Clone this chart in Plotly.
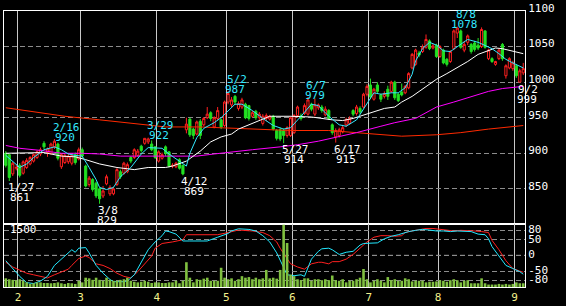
import plotly.graph_objects as go

# ---- daily OHLC (trading-day index 0 = 2022-01-26) ----
opens = [900, 898, 871, 879,
         883, 872, 880, 885, 889, 894, 899, 914, 901, 900, 909, 913, 881, 887, 888, 886, 898, 892,
         905, 882, 856, 863, 858, 850, 840, 857, 843, 843, 856, 874, 872, 874, 894, 894, 897, 910, 914, 916, 913, 909,
         889, 893, 909, 902, 882, 881, 891, 883, 933, 948, 934, 927, 945, 940, 950, 957, 937, 949, 947, 939,
         972, 968, 980, 963, 965, 969, 967, 952, 959, 950, 942, 949, 948, 952, 932, 933, 932, 925, 925,
         929, 953, 953, 956, 955, 969, 955, 964, 965, 954, 960, 940, 923, 925, 930, 940, 942, 960, 956, 963, 965, 983,
         996, 976, 996, 982, 980, 990, 987, 1000, 983, 986, 985, 992, 1020, 1025, 1041, 1043, 1049, 1058, 1048, 1052,
         1036, 1045, 1032, 1029, 1047, 1069, 1072, 1045, 1056, 1053, 1055, 1052, 1050, 1072, 1033, 1033, 1025, 1033, 1053, 1009, 1020, 1019,
         1023, 1000, 1013]
highs = [903, 899, 888, 884,
         886, 890, 893, 896, 900, 904, 908, 917, 908, 915, 920, 915, 900, 899, 899, 900, 901, 908,
         908, 884, 868, 865, 860, 852, 854, 870, 855, 853, 879, 877, 888, 887, 896, 907, 906, 912, 921, 922, 918, 910,
         904, 901, 911, 903, 886, 888, 893, 884, 950, 950, 936, 946, 948, 951, 965, 959, 952, 965, 949, 974,
         987, 979, 982, 973, 978, 971, 968, 960, 961, 958, 955, 956, 954, 954, 934, 936, 935, 938, 952,
         955, 967, 956, 970, 979, 971, 977, 970, 968, 966, 962, 942, 935, 936, 940, 950, 952, 962, 968, 966, 985, 997,
         1005, 992, 1000, 984, 987, 995, 1002, 1002, 985, 998, 996, 1014, 1041, 1047, 1044, 1053, 1067, 1060, 1054, 1054,
         1052, 1047, 1034, 1045, 1074, 1078, 1074, 1058, 1067, 1055, 1058, 1062, 1077, 1073, 1047, 1035, 1030, 1047, 1055, 1025, 1035, 1030,
         1025, 1019, 1027]
lows = [880, 861, 868, 876,
        866, 870, 878, 883, 887, 892, 896, 906, 895, 898, 906, 890, 878, 885, 885, 883, 884, 890,
        893, 852, 853, 846, 837, 829, 837, 855, 840, 841, 854, 864, 870, 872, 886, 892, 895, 901, 912, 913, 903, 892,
        887, 891, 896, 880, 879, 879, 877, 869, 928, 923, 920, 925, 920, 938, 948, 945, 935, 946, 934, 937,
        969, 965, 968, 960, 962, 948, 946, 950, 947, 947, 939, 945, 946, 932, 918, 917, 914, 922, 923,
        927, 950, 946, 954, 953, 959, 952, 961, 957, 952, 947, 926, 915, 922, 928, 937, 940, 952, 953, 955, 963, 980,
        976, 974, 984, 972, 977, 975, 985, 975, 972, 980, 983, 990, 1018, 1023, 1035, 1041, 1047, 1045, 1046, 1034,
        1034, 1025, 1022, 1027, 1045, 1062, 1047, 1042, 1052, 1040, 1043, 1045, 1048, 1047, 1031, 1027, 1023, 1031, 1030, 1005, 1018, 1016,
        1006, 999, 1010]
closes = [883, 866, 886, 880,
          869, 888, 890, 894, 898, 902, 905, 909, 906, 913, 917, 893, 898, 897, 896, 897, 887, 905,
          896, 854, 865, 849, 840, 836, 847, 867, 852, 850, 877, 867, 886, 884, 889, 905, 903, 904, 921, 920, 905, 894,
          902, 898, 900, 882, 883, 886, 879, 871, 941, 926, 925, 944, 925, 949, 955, 949, 950, 960, 937, 972,
          984, 975, 972, 970, 975, 950, 949, 957, 950, 955, 952, 953, 952, 934, 921, 920, 925, 936, 950,
          953, 965, 949, 967, 975, 962, 968, 968, 960, 962, 949, 929, 932, 933, 936, 947, 949, 955, 965, 958, 983, 994,
          979, 990, 987, 976, 984, 980, 1000, 978, 974, 982, 994, 1012, 1039, 1045, 1038, 1049, 1060, 1047, 1051, 1036,
          1050, 1027, 1025, 1043, 1072, 1076, 1049, 1053, 1065, 1043, 1046, 1048, 1074, 1049, 1045, 1029, 1029, 1045, 1033, 1023, 1033, 1027,
          1009, 1016, 1019]
volumes = [208, 186, 171, 163,
           186, 149, 111, 74, 89, 111, 111, 96, 96, 89, 96, 111, 89, 74, 96, 89, 74, 149,
           111, 223, 208, 171, 223, 171, 149, 223, 171, 149, 149, 171, 186, 223, 149, 126, 111, 126, 149, 126, 96, 111,
           111, 96, 96, 111, 111, 149, 89, 149, 594, 223, 111, 186, 171, 200, 223, 149, 149, 149, 461, 223,
           186, 208, 149, 186, 260, 223, 238, 186, 223, 186, 208, 409, 208, 223, 200, 409, 1500, 1055, 297,
           260, 186, 163, 208, 208, 149, 186, 186, 163, 186, 163, 275, 163, 149, 186, 111, 149, 149, 186, 223, 431, 186,
           111, 149, 186, 149, 111, 238, 163, 186, 149, 149, 208, 186, 134, 149, 149, 149, 111, 126, 126, 134,
           163, 149, 126, 163, 186, 163, 111, 149, 163, 89, 89, 89, 208, 89, 59, 59, 59, 74, 59, 74, 59, 74,
           111, 89, 89]
days = list(range(len(closes)))

# ---- moving averages read at sample days ----
ma_cyan_days = [0, 3, 4, 6, 8, 11, 14, 16, 18, 20, 22, 24, 26, 27, 29, 31, 33, 36, 39, 41, 43, 45, 47, 49, 51, 52,
                53, 55, 57, 60, 62, 64, 66, 68, 71, 74, 77, 80, 82, 85, 88, 90, 93, 96, 98, 101, 104, 106, 108, 111,
                113, 115, 117, 118, 120, 122, 124, 126, 128, 130, 133, 136, 138, 140, 142, 144, 146, 148, 149]
ma_cyan_vals = [897, 885, 880, 885, 894, 905, 909, 905, 899, 897, 896, 880, 863, 852, 849, 852, 867, 880, 899, 908,
                908, 907, 899, 892, 885, 882, 900, 922, 935, 943, 950, 960, 969, 969, 960, 949, 939, 934, 936, 952,
                969, 967, 952, 940, 938, 947, 969, 985, 983, 985, 985, 992, 1011, 1030, 1047, 1056, 1052, 1044, 1043,
                1050, 1060, 1056, 1052, 1047, 1040, 1032, 1027, 1023, 1020]
ma_white_days = [0, 8, 11, 16, 20, 23, 27, 32, 37, 41, 46, 48, 52, 56, 59, 62, 65, 67, 70, 73, 76, 82, 88, 94, 97,
                 100, 103, 106, 109, 112, 114, 117, 121, 124, 127, 130, 133, 136, 139, 141, 143, 146, 149]
ma_white_vals = [900, 900, 901, 896, 895, 891, 885, 880, 877, 880, 880, 882, 889, 903, 916, 923, 927, 934, 940, 947,
                 952, 952, 951, 947, 946, 949, 954, 959, 963, 965, 972, 980, 993, 1004, 1012, 1020, 1029, 1039, 1045,
                 1048, 1047, 1043, 1040]
ma_magenta_days = [0, 4, 10, 16, 22, 27, 33, 39, 45, 50, 55, 60, 65, 71, 79, 84, 90, 96, 101, 108, 112, 118, 124,
                   129, 134, 139, 143, 149]
ma_magenta_vals = [911, 907, 904, 900, 900, 899, 896, 896, 896, 895, 896, 899, 902, 905, 909, 912, 917, 923, 929,
                   938, 943, 949, 965, 972, 980, 987, 991, 994]
ma_red_days = [0, 8, 17, 27, 37, 46, 56, 65, 74, 82, 93, 100, 108, 114, 124, 131, 139, 144, 149]
ma_red_vals = [964, 958, 952, 947, 942, 937, 937, 935, 934, 932, 932, 929, 926, 924, 926, 929, 934, 937, 939]

# ---- oscillator (RCI) read at sample days ----
rci_short_days = [0, 2, 4, 6, 8, 10, 12, 14, 17, 19, 20, 21, 23, 24, 26, 28, 30, 31, 34, 35, 37, 39, 41, 43, 45,
                  46, 47, 49, 51, 53, 56, 58, 61, 64, 65, 67, 70, 72, 74, 76, 78, 79, 80, 81, 83, 85, 86, 87, 88,
                  90, 91, 93, 94, 96, 98, 100, 102, 103, 105, 107, 109, 111, 113, 114, 116, 118, 120, 122, 124,
                  126, 128, 130, 132, 134, 136, 138, 139, 140, 142, 144, 146, 148, 149]
rci_short_vals = [-17, -42, -67, -87, -90, -82, -67, -32, -2, 18, 10, 23, 25, 8, -32, -57, -77, -84, -84, -82, -62,
                  -22, 18, 43, 63, 78, 76, 68, 46, 46, 46, 46, 58, 70, 78, 85, 83, 78, 63, 43, 8, -17, -42, -62, -65,
                  -62, -67, -42, -12, 13, 21, 23, 18, 3, 10, 13, 33, 38, 38, 40, 53, 61, 66, 70, 76, 80, 83, 81, 78,
                  78, 76, 78, 78, 76, 68, 66, 53, 28, -2, -32, -42, -52, -60]
rci_long_days = [0, 2, 4, 6, 8, 10, 12, 14, 16, 18, 19, 21, 23, 24, 26, 28, 30, 32, 34, 36, 38, 40, 42, 43, 45,
                 48, 51, 52, 56, 61, 64, 67, 71, 74, 76, 78, 79, 81, 82, 84, 86, 88, 90, 91, 93, 94, 96, 98, 100,
                 102, 104, 106, 108, 110, 112, 114, 115, 117, 119, 121, 123, 125, 127, 129, 131, 133, 135, 137,
                 139, 140, 142, 144, 146, 148, 149]
rci_long_vals = [-22, -37, -47, -57, -62, -67, -72, -62, -52, -44, -32, -10, -2, -7, -27, -32, -42, -57, -67, -72,
                 -52, -27, -2, 23, 38, 43, 50, 66, 66, 66, 73, 81, 78, 73, 63, 43, 23, -12, -27, -37, -44, -27, -22,
                 -22, -27, -20, -20, -12, 3, 23, 43, 58, 63, 63, 61, 63, 73, 78, 83, 86, 86, 83, 80, 78, 80, 80, 78,
                 76, 73, 48, 18, -17, -42, -50, -54]

# ---- labels ----
month_pos = [3.5, 21.5, 43.5, 63.5, 82.5, 104.5, 124.5, 146.5]
month_labels = ["2", "3", "4", "5", "6", "7", "8", "9"]
price_ticks = [850, 900, 950, 1000, 1050, 1100]
rci_ticks = [80, 50, 0, -50, -80]
vol_label = "1500"
high_dates = ["2/16", "3/29", "5/2", "6/7", "8/8"]
high_days = [14, 41, 64, 87, 130]
high_vals = [920, 922, 987, 979, 1078]
low_dates = ["1/27", "3/8", "4/12", "5/27", "6/17", "9/2"]
low_days = [1, 27, 51, 80, 95, 148]
low_vals = [861, 829, 869, 914, 915, 999]

FONT = "DejaVu Sans Mono"
CW = 6.6  # approx char width at size 11
DASH = "5px,3px"
CYAN_TXT = "#33e8ff"

fig = go.Figure()
fig.add_trace(go.Candlestick(
    x=days, open=opens, high=highs, low=lows, close=closes, xaxis="x", yaxis="y",
    increasing=dict(line=dict(color="#ff2020", width=1), fillcolor="#000000"),
    decreasing=dict(line=dict(color="#22e022", width=1), fillcolor="#22e022"),
    whiskerwidth=0, hoverinfo="skip", showlegend=False))
for dd, vv, col in [(ma_red_days, ma_red_vals, "#ff2a00"),
                    (ma_magenta_days, ma_magenta_vals, "#ff00ff"),
                    (ma_white_days, ma_white_vals, "#ffffff"),
                    (ma_cyan_days, ma_cyan_vals, "#33e8ff")]:
    fig.add_trace(go.Scatter(x=dd, y=vv, mode="lines", line=dict(color=col, width=1),
                             xaxis="x", yaxis="y", showlegend=False, hoverinfo="skip"))

fig.add_trace(go.Bar(x=days, y=volumes, xaxis="x2", yaxis="y3", marker=dict(color="#80c040", line=dict(width=0)),
                     width=0.75, showlegend=False, hoverinfo="skip"))
fig.add_trace(go.Scatter(x=rci_long_days, y=rci_long_vals, mode="lines", line=dict(color="#ff2020", width=1),
                         xaxis="x2", yaxis="y2", showlegend=False, hoverinfo="skip"))
fig.add_trace(go.Scatter(x=rci_short_days, y=rci_short_vals, mode="lines", line=dict(color="#22e8ff", width=1),
                         xaxis="x2", yaxis="y2", showlegend=False, hoverinfo="skip"))

split = (293 - 227) / 291.0
xr = [-0.52, 149.5]
common_x = dict(range=xr, tickvals=month_pos, showgrid=True, gridcolor="#c8c8c8", gridwidth=1,
                zeroline=False, showline=True, linecolor="#ffffff", linewidth=1, mirror=True, ticks="",
                fixedrange=True)
fig.update_layout(
    width=566, height=306, margin=dict(l=4, r=41, t=2, b=13),
    paper_bgcolor="#000000", plot_bgcolor="#000000",
    font=dict(family=FONT, size=11, color="#ffffff"),
    boxgap=0.12,
    xaxis=dict(domain=[0, 1], anchor="y", showticklabels=False, rangeslider=dict(visible=False), **common_x),
    yaxis=dict(domain=[split, 1], anchor="x", range=[800, 1100], side="right", tickvals=price_ticks,
               showgrid=True, gridcolor="#8c8c8c", griddash=DASH, gridwidth=1, zeroline=False,
               showline=True, linecolor="#ffffff", mirror=True, ticks="", ticklabelshift=-3,
               ticklabeloverflow="allow",
               tickfont=dict(family=FONT, size=11, color="#ffffff")),
    xaxis2=dict(domain=[0, 1], anchor="y2", ticktext=month_labels, showticklabels=True,
                tickfont=dict(family=FONT, size=11, color="#f4f08c"), **common_x),
    yaxis2=dict(domain=[0, split], anchor="x2", range=[-101, 99], side="right", tickvals=rci_ticks,
                ticktext=[str(t) for t in rci_ticks], showgrid=True, gridcolor="#8c8c8c", griddash=DASH,
                zeroline=False, showline=True, linecolor="#ffffff", mirror=True, ticks="", ticklabelshift=-1,
                ticklabeloverflow="allow",
                tickfont=dict(family=FONT, size=11, color="#ffffff")),
    yaxis3=dict(overlaying="y2", range=[0, 1500], visible=False, fixedrange=True),
    bargap=0.25,
)
fig.add_shape(type="line", xref="x2 domain", yref="y2", x0=0, x1=1, y0=0, y1=0,
              line=dict(color="#ffffff", width=1, dash=DASH), layer="below")

ann = []
for d, t, v in zip(high_days, high_dates, high_vals):
    ann.append(dict(x=d, y=v, xref="x", yref="y", text=t, showarrow=False, xanchor="left", yanchor="bottom",
                    xshift=-3.5, yshift=3.5, font=dict(family=FONT, size=11, color=CYAN_TXT)))
    ann.append(dict(x=d, y=v, xref="x", yref="y", text=str(v), showarrow=False, xanchor="center",
                    yanchor="bottom", xshift=-2.5 + len(t) * CW / 2, yshift=-6.5,
                    font=dict(family=FONT, size=11, color=CYAN_TXT)))
for d, t, v in zip(low_days, low_dates, low_vals):
    ann.append(dict(x=d, y=v, xref="x", yref="y", text=t, showarrow=False, xanchor="left", yanchor="top",
                    xshift=-3.5, yshift=2, font=dict(family=FONT, size=11, color="#ffffff")))
    ann.append(dict(x=d, y=v, xref="x", yref="y", text=str(v), showarrow=False, xanchor="center",
                    yanchor="top", xshift=-2.5 + len(t) * CW / 2, yshift=-8,
                    font=dict(family=FONT, size=11, color="#ffffff")))
ann.append(dict(x=0, y=1, xref="x2 domain", yref="y2 domain", text=vol_label, showarrow=False,
                xanchor="left", yanchor="top", xshift=4, yshift=3,
                font=dict(family=FONT, size=11, color="#ffffff")))
fig.update_layout(annotations=ann)

fig.write_html("out.html")
